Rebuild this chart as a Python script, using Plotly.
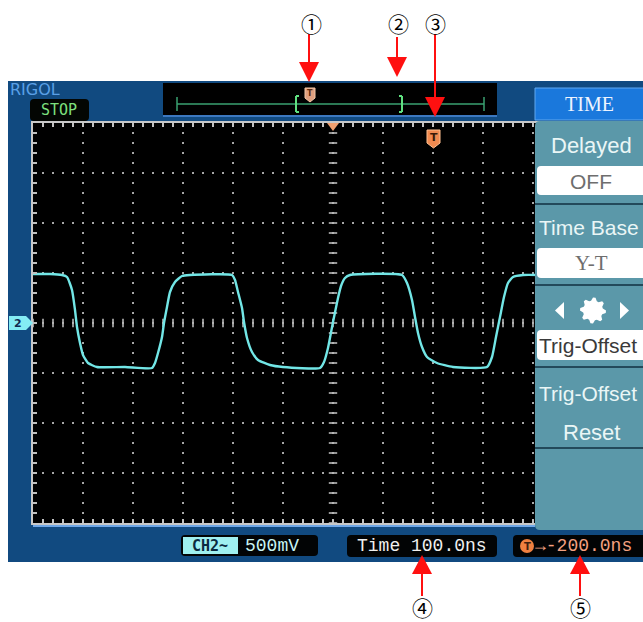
import numpy as np
import plotly.graph_objects as go

W, H = 643, 622

# CH2 waveform: time (ns, 0 = screen centre) and voltage (V)
time_ns = [-600, -566, -542, -532, -522, -516, -512, -506, -500, -490, -472, -416, -362,
           -356, -350, -342, -338, -332, -326, -316, -302, -286, -202, -196, -190, -182,
           -178, -172, -162, -150, -126, -100, -26, -18, -10, 0, 10, 16, 24, 34, 138,
           148, 158, 164, 170, 178, 188, 208, 240, 308, 318, 326, 334, 342, 350, 360,
           380, 414]
volts = [0.49, 0.49, 0.48, 0.46, 0.33, 0.13, -0.04, -0.20, -0.32, -0.40, -0.44, -0.44, -0.45,
         -0.40, -0.30, -0.14, 0.00, 0.16, 0.31, 0.41, 0.47, 0.48, 0.48, 0.43, 0.31, 0.15,
         0.01, -0.15, -0.29, -0.37, -0.42, -0.44, -0.45, -0.39, -0.25, 0.01, 0.25, 0.37, 0.45, 0.48, 0.48,
         0.40, 0.23, 0.06, -0.10, -0.24, -0.34, -0.40, -0.44, -0.44, -0.34, -0.14, 0.06, 0.26, 0.40, 0.46,
         0.48, 0.48]

time_per_div_ns = 100
volts_per_div = 0.5
h_divs = 12
v_divs = 8

menu_title = "TIME"
menu_items = ["Delayed", "OFF", "Time Base", "Y-T", "Trig-Offset", "Trig-Offset", "Reset"]
ch_label = "CH2~"
ch_scale = "500mV"
time_label = "Time 100.0ns"
trig_offset_label = "→-200.0ns"
callouts = ["①", "②", "③", "④", "⑤"]

# ---------------- helpers (window pixel -> paper) ----------------
def px(x):
    return x / W


def py(y):
    return 1 - y / H


shapes = []
annotations = []


def rect(x0, y0, x1, y1, fill, line=None, lw=0, layer="above"):
    shapes.append(dict(type="rect", xref="paper", yref="paper",
                       x0=px(x0), x1=px(x1), y0=py(y1), y1=py(y0),
                       fillcolor=fill, line=dict(color=line or fill, width=lw), layer=layer))


def rrect(x0, y0, x1, y1, r, fill, line=None, lw=0, layer="above"):
    p = (f"M{px(x0+r)},{py(y0)} L{px(x1-r)},{py(y0)} Q{px(x1)},{py(y0)} {px(x1)},{py(y0+r)} "
         f"L{px(x1)},{py(y1-r)} Q{px(x1)},{py(y1)} {px(x1-r)},{py(y1)} "
         f"L{px(x0+r)},{py(y1)} Q{px(x0)},{py(y1)} {px(x0)},{py(y1-r)} "
         f"L{px(x0)},{py(y0+r)} Q{px(x0)},{py(y0)} {px(x0+r)},{py(y0)} Z")
    shapes.append(dict(type="path", xref="paper", yref="paper", path=p,
                       fillcolor=fill, line=dict(color=line or fill, width=lw), layer=layer))


def poly(pts, fill, line=None, lw=0, layer="above"):
    p = "M" + " L".join(f"{px(a)},{py(b)}" for a, b in pts) + " Z"
    shapes.append(dict(type="path", xref="paper", yref="paper", path=p,
                       fillcolor=fill, line=dict(color=line or fill, width=lw), layer=layer))


def seg(x0, y0, x1, y1, color, lw, layer="above"):
    shapes.append(dict(type="line", xref="paper", yref="paper",
                       x0=px(x0), x1=px(x1), y0=py(y0), y1=py(y1),
                       line=dict(color=color, width=lw), layer=layer))


def text(x, y, s, size, color, family="Liberation Sans", xanchor="center", bold=False):
    annotations.append(dict(x=px(x), y=py(y), xref="paper", yref="paper", text=(f"<b>{s}</b>" if bold else s),
                            showarrow=False, xanchor=xanchor, yanchor="middle",
                            font=dict(size=size, color=color, family=family)))


# ---------------- screen background ----------------
rect(8, 81, 650, 562, "#114a80", layer="below")
rect(33, 123, 633, 523, "#000000", layer="below")

# top status bar
text(8, 89, "RIGOL", 16, "#5aa0e6", family="DejaVu Sans", xanchor="left")
rrect(30, 99, 89, 121, 4, "#030603")
text(59, 110, "STOP", 15, "#7ee07e", family="DejaVu Sans Mono")

rect(163, 83, 497, 115, "#000000")
seg(163, 116, 497, 116, "#3c78c0", 2)
seg(177, 104, 484, 104, "#3aa070", 1.5)
seg(177, 97, 177, 111, "#3aa070", 1.5)
seg(484, 97, 484, 111, "#3aa070", 1.5)
for bx, d in [(296, 1), (402, -1)]:
    seg(bx, 96, bx, 112, "#60e080", 2)
    seg(bx, 96, bx + 3 * d, 96, "#60e080", 2)
    seg(bx, 112, bx + 3 * d, 112, "#60e080", 2)
poly([(305, 88), (315, 88), (315, 98), (310, 102), (305, 98)], "#e0a080", "#f4c8a8", 1)
text(310, 93.5, "T", 8, "#5a2a10", family="DejaVu Sans", bold=True)

# grid markers
poly([(327, 123), (339, 123), (333, 131)], "#f0a070")
poly([(427, 130), (440, 130), (440, 143), (433.5, 148), (427, 143)], "#f08a50", "#ffc090", 1)
text(433.5, 137, "T", 11, "#3a1a08", family="DejaVu Sans", bold=True)
poly([(9, 316), (26, 316), (33, 323), (26, 330), (9, 330)], "#84ecf4")
text(17.5, 323, "2", 11, "#102a50", family="DejaVu Sans", bold=True)

seg(33, 526, 535, 526, "#70a8e8", 2)

# ---------------- right menu ----------------
rrect(535, 121, 660, 530, 5, "#5b98a9")
rect(535, 88, 660, 120, "#1a78dc", "#60a8f0", 1)
text(589, 104, menu_title, 20, "#eef4ff", family="Liberation Serif")
for yy in [204, 285, 367, 448]:
    seg(535, yy, 660, yy, "#23495a", 2)
for y0, y1 in [(166, 195), (248, 278), (330, 360)]:
    rrect(537, y0, 660, y1, 4, "#ffffff")
text(591, 145, menu_items[0], 22, "#eaf6f6")
text(591, 181, menu_items[1], 21, "#6e6e6e")
text(537, 227, menu_items[2], 21, "#eaf6f6", xanchor="left")
text(591, 263, menu_items[3], 21, "#6e6e6e", family="Liberation Serif")
text(537, 345, menu_items[4], 21, "#3a3a3a", xanchor="left")
text(537, 393, menu_items[5], 21, "#eaf6f6", xanchor="left")
text(591, 432, menu_items[6], 22, "#eaf6f6")
poly([(564, 302), (564, 319), (555, 310.5)], "#ffffff")
poly([(620, 302), (620, 319), (629, 310.5)], "#ffffff")
ang = np.deg2rad(np.arange(0, 360, 11.25))
rad = np.array([13, 13, 10, 10] * 8)
poly(list(zip(593 + rad * np.cos(ang), 310.5 + rad * np.sin(ang))), "#ffffff")

# ---------------- bottom readouts ----------------
rrect(181, 535, 318, 556, 4, "#020405")
rect(183, 537, 238, 554, "#9ff0f0")
text(210.5, 545.5, ch_label, 15, "#0a2a40", family="DejaVu Sans Mono", bold=True)
text(243, 545.5, ch_scale, 18, "#c8f4f4", family="Liberation Mono", xanchor="left")
rrect(347, 535, 497, 557, 4, "#020405")
text(422, 546, time_label, 18, "#f0f0f0", family="Liberation Mono")
rrect(513, 535, 660, 557, 4, "#020405")
shapes.append(dict(type="circle", xref="paper", yref="paper", x0=px(520), x1=px(534), y0=py(553), y1=py(539),
                   fillcolor="#f08040", line=dict(color="#f08040", width=0), layer="above"))
text(527, 546, "T", 10, "#402010", family="DejaVu Sans", bold=True)
text(533, 546, trig_offset_label, 18, "#f4a080", family="Liberation Mono", xanchor="left")

# ---------------- callout arrows ----------------
red = "#ff1010"
for x, y0, y1 in [(309, 34, 64), (397, 37, 59), (435, 34, 99)]:
    seg(x, y0, x, y1, red, 2)
    poly([(x - 10, y1 - 2), (x + 10, y1 - 2), (x, y1 + 18)], red)
for x in [422, 580]:
    seg(x, 572, x, 596, red, 2)
    poly([(x - 10, 574), (x + 10, 574), (x, 555)], red)
for (x, y), s in zip([(311, 23), (398, 23), (435, 23), (422, 607), (580, 607)], callouts):
    text(x, y, s, 21, "#000000", family="Noto Sans CJK JP")

# ---------------- figure ----------------
x_half = time_per_div_ns * h_divs / 2
y_half = volts_per_div * v_divs / 2

fig = go.Figure()
# centre-line tick dashes
fig.add_trace(go.Scatter(x=np.arange(-x_half, x_half + 1, time_per_div_ns / 5), y=np.zeros(61),
                         mode="markers", hoverinfo="skip",
                         marker=dict(symbol="line-ns", size=6, line=dict(color="#b8b8b8", width=1.6))))
fig.add_trace(go.Scatter(x=np.zeros(41), y=np.linspace(-y_half, y_half, 41),
                         mode="markers", hoverinfo="skip",
                         marker=dict(symbol="line-ew", size=6, line=dict(color="#b8b8b8", width=1.6))))
fig.add_trace(go.Scatter(x=time_ns, y=volts, mode="lines", hoverinfo="skip",
                         line=dict(color="#72e6e6", width=2.4, shape="spline", smoothing=0.5)))

axis_common = dict(showgrid=True, gridcolor="#a8a8a8", gridwidth=2, griddash="1px,8px,1px,0px",
                   zeroline=False, showticklabels=False, ticks="inside", ticklen=4,
                   tickcolor="#c0c0c0", tickwidth=1.5, showline=True, linecolor="#c8c8c8",
                   linewidth=2, mirror="ticks", fixedrange=True)
fig.update_layout(
    width=W, height=H, margin=dict(l=0, r=0, t=0, b=0),
    paper_bgcolor="#ffffff", plot_bgcolor="#000000", showlegend=False,
    xaxis=dict(range=[-x_half, x_half], dtick=time_per_div_ns, domain=[px(33), px(633)],
               minor=dict(dtick=time_per_div_ns / 5, ticks="inside", ticklen=4, tickcolor="#c0c0c0",
                          showgrid=False), **axis_common),
    yaxis=dict(range=[-y_half, y_half], dtick=volts_per_div, domain=[py(523), py(123)],
               minor=dict(dtick=volts_per_div / 5, ticks="inside", ticklen=4, tickcolor="#c0c0c0",
                          showgrid=False), **axis_common),
    shapes=shapes, annotations=annotations,
)
fig.write_html("out.html", config={"displayModeBar": False},
               post_script="document.body.style.margin='0';document.body.style.overflow='hidden';")
